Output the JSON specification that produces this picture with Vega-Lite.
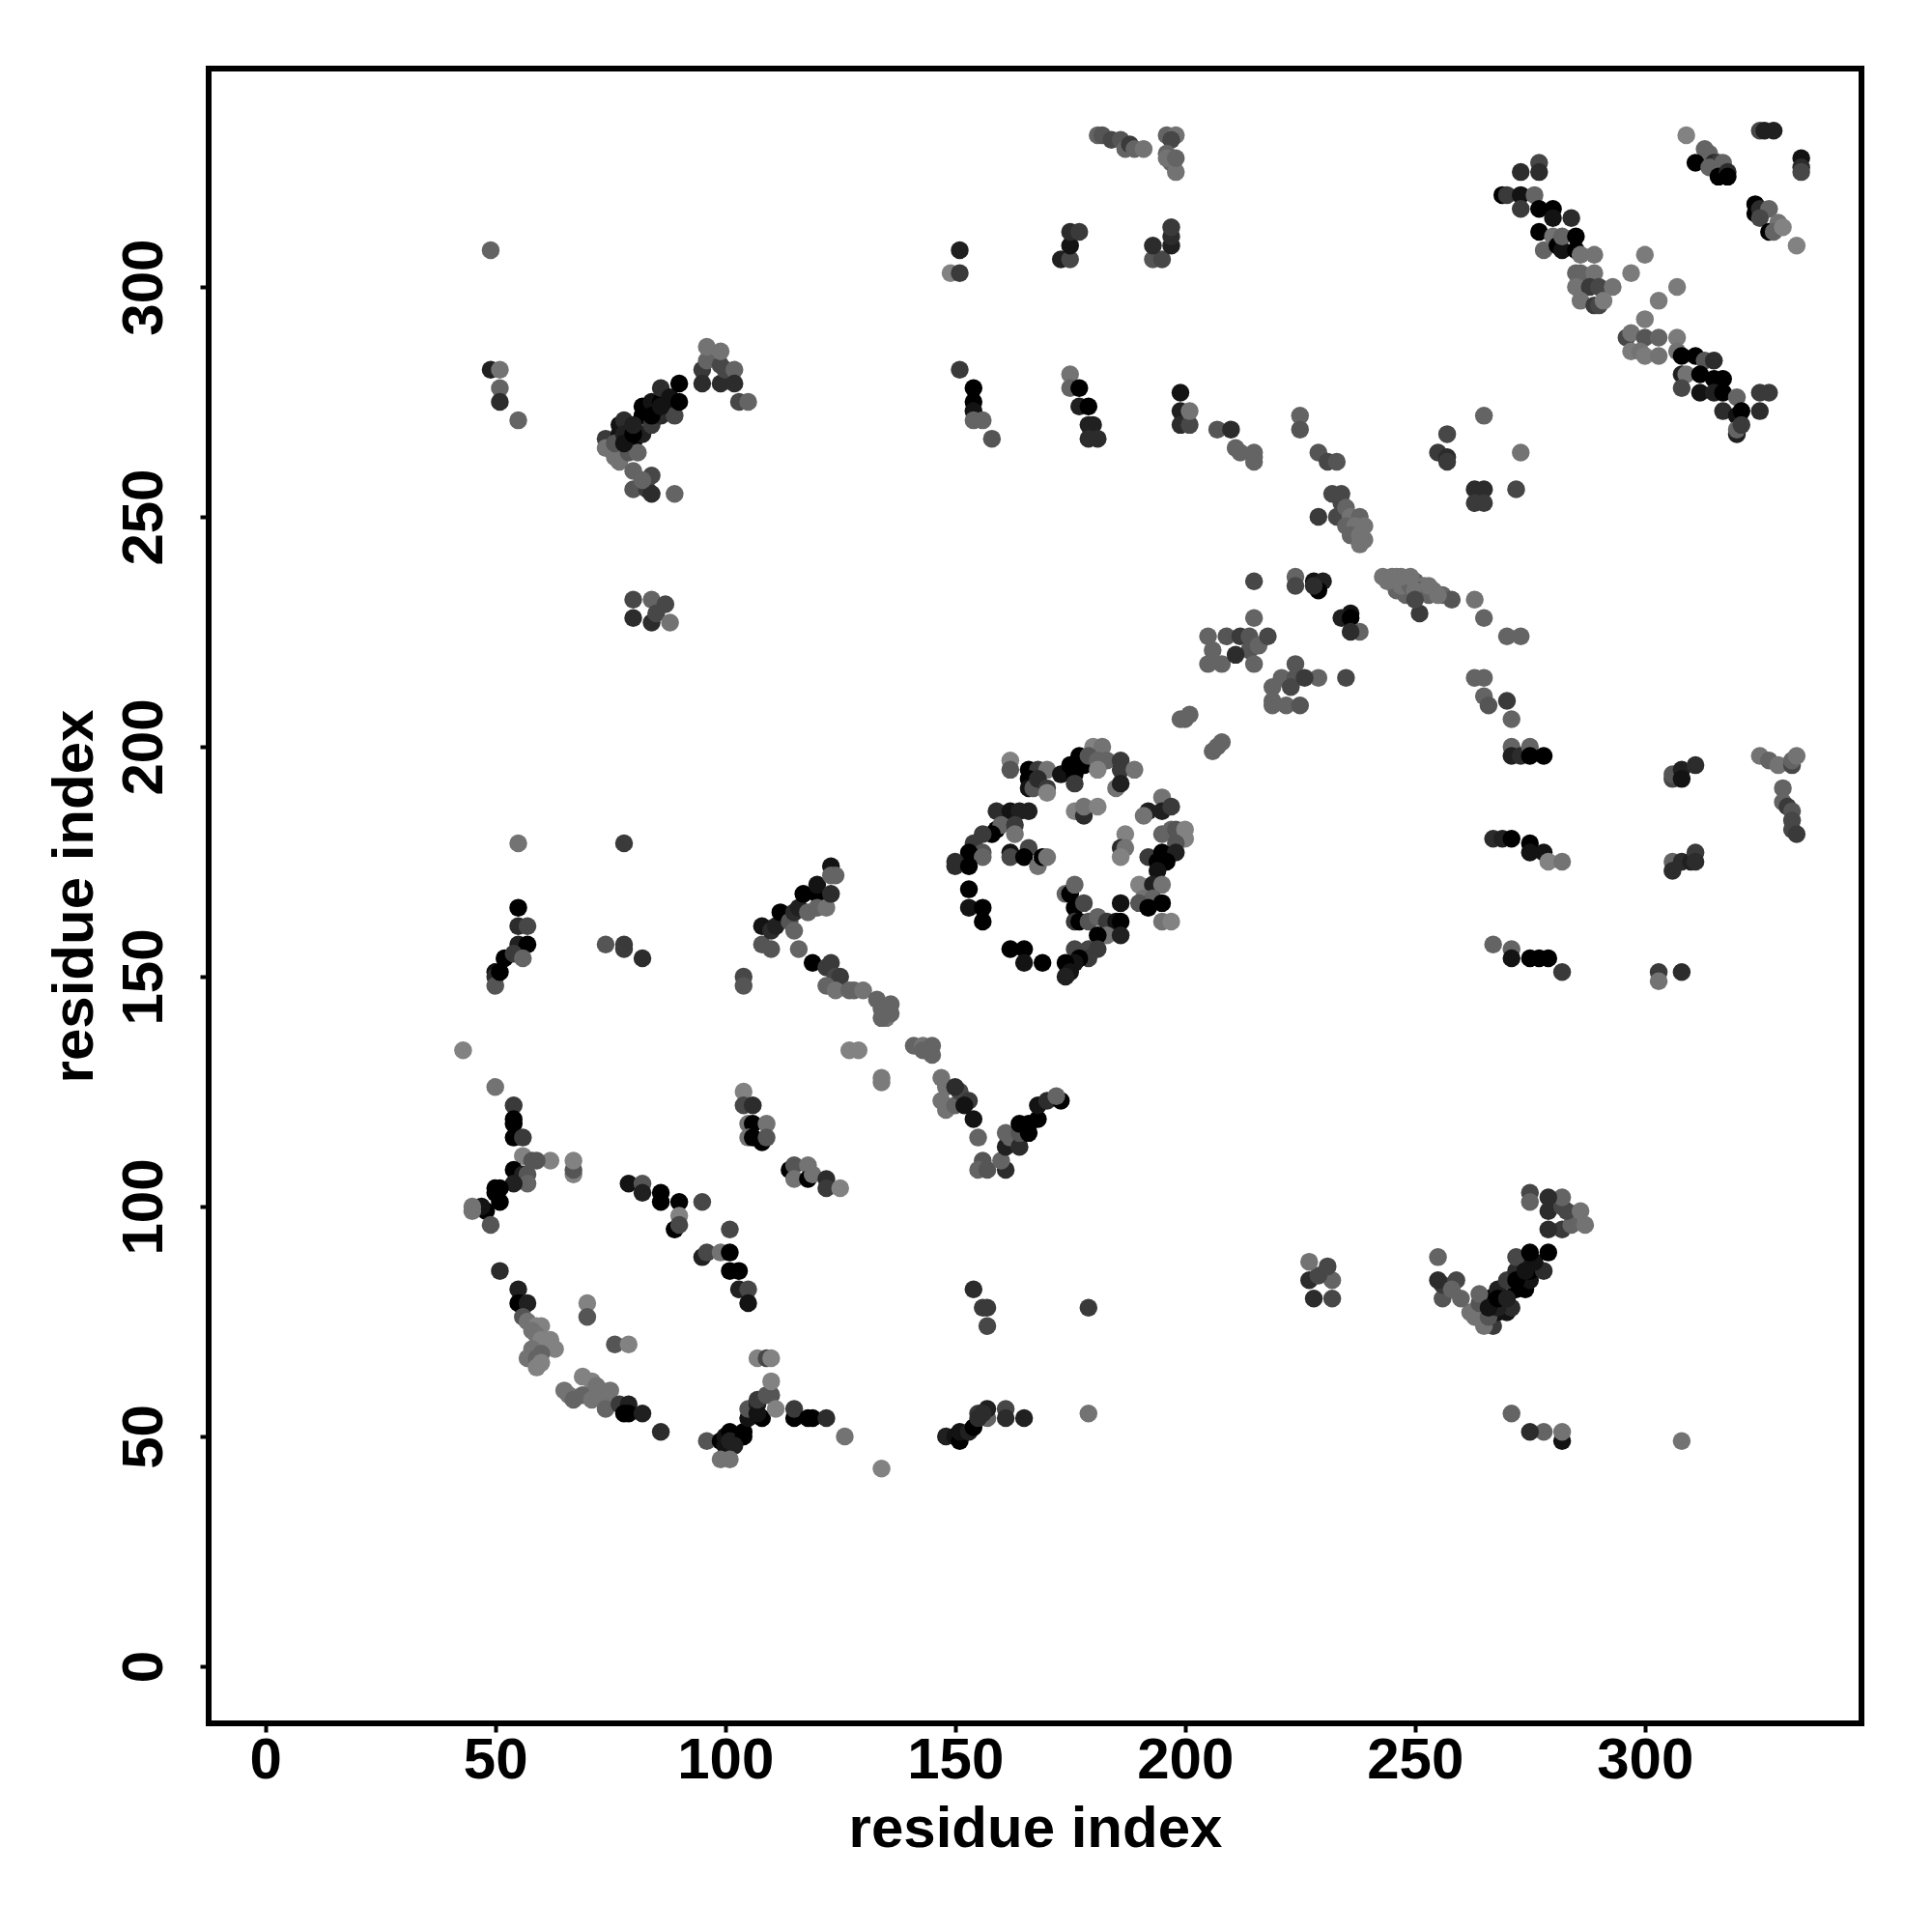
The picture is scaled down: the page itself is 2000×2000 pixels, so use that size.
{"$schema":"https://vega.github.io/schema/vega-lite/v6.json","width":1711,"height":1713,"autosize":{"type":"none"},"padding":{"left":216,"top":71,"right":70,"bottom":210},"background":"white","config":{"view":{"stroke":"#000000","strokeWidth":6},"font":"Liberation Sans"},"data":{"values":[
{"x":43,"y":134,"v":0.9},{"x":50,"y":126,"v":0.8},{"x":54,"y":122,"v":0.4},{"x":54,"y":119,"v":0},{"x":54,"y":118,"v":0},{"x":54,"y":115,"v":0},{"x":56,"y":115,"v":0.4},{"x":56,"y":111,"v":0.9},{"x":62,"y":110,"v":0.9},{"x":59,"y":110,"v":0.6},{"x":58,"y":110,"v":0.6},{"x":67,"y":107,"v":0.9},{"x":67,"y":108,"v":0.6},{"x":67,"y":110,"v":0.9},{"x":54,"y":108,"v":0},{"x":56,"y":107,"v":0.2},{"x":57,"y":107,"v":0.6},{"x":57,"y":105,"v":0.7},{"x":54,"y":105,"v":0.2},{"x":50,"y":104,"v":0},{"x":51,"y":104,"v":0},{"x":50,"y":103,"v":0},{"x":51,"y":101,"v":0},{"x":48,"y":99,"v":0},{"x":47,"y":100,"v":0.1},{"x":45,"y":100,"v":0.8},{"x":45,"y":99,"v":0.8},{"x":49,"y":96,"v":0.6},{"x":51,"y":86,"v":0.3},{"x":55,"y":82,"v":0.2},{"x":55,"y":79,"v":0},{"x":57,"y":79,"v":0.2},{"x":56,"y":76,"v":0.6},{"x":57,"y":75,"v":0.8},{"x":59,"y":74,"v":0.9},{"x":60,"y":74,"v":0.9},{"x":58,"y":73,"v":0.8},{"x":59,"y":72,"v":0.8},{"x":60,"y":71,"v":0.9},{"x":62,"y":71,"v":0.9},{"x":63,"y":69,"v":0.9},{"x":58,"y":69,"v":0.8},{"x":60,"y":68,"v":0.7},{"x":57,"y":67,"v":0.8},{"x":59,"y":67,"v":0.7},{"x":60,"y":66,"v":0.9},{"x":59,"y":65,"v":0.9},{"x":70,"y":79,"v":0.9},{"x":70,"y":76,"v":0.6},{"x":76,"y":70,"v":0.6},{"x":79,"y":70,"v":0.9},{"x":69,"y":63,"v":0.9},{"x":71,"y":62,"v":0.9},{"x":65,"y":60,"v":0.8},{"x":66,"y":59,"v":0.8},{"x":67,"y":58,"v":0.7},{"x":69,"y":59,"v":0.7},{"x":71,"y":58,"v":0.8},{"x":72,"y":61,"v":0.8},{"x":73,"y":60,"v":0.8},{"x":74,"y":58,"v":0.8},{"x":75,"y":60,"v":0.8},{"x":74,"y":56,"v":0.7},{"x":77,"y":57,"v":0.4},{"x":79,"y":57,"v":0.2},{"x":79,"y":55,"v":0},{"x":78,"y":55,"v":0},{"x":82,"y":55,"v":0.2},{"x":86,"y":51,"v":0.3},{"x":96,"y":49,"v":0.6},{"x":99,"y":49,"v":0},{"x":100,"y":48,"v":0.1},{"x":100,"y":50,"v":0.1},{"x":101,"y":51,"v":0},{"x":101,"y":49,"v":0.2},{"x":104,"y":51,"v":0},{"x":104,"y":50,"v":0},{"x":102,"y":48,"v":0.2},{"x":99,"y":45,"v":0.8},{"x":101,"y":45,"v":0.8},{"x":105,"y":54,"v":0.1},{"x":105,"y":56,"v":0.6},{"x":107,"y":57,"v":0.2},{"x":108,"y":54,"v":0},{"x":107,"y":55,"v":0.1},{"x":107,"y":58,"v":0.4},{"x":109,"y":59,"v":0.6},{"x":110,"y":59,"v":0.6},{"x":110,"y":62,"v":0.9},{"x":111,"y":56,"v":0.9},{"x":115,"y":54,"v":0},{"x":115,"y":56,"v":0.4},{"x":118,"y":54,"v":0},{"x":119,"y":54,"v":0},{"x":122,"y":54,"v":0.3},{"x":126,"y":50,"v":0.8},{"x":134,"y":43,"v":0.9},{"x":107,"y":67,"v":0.9},{"x":109,"y":67,"v":0.5},{"x":110,"y":67,"v":0.9},{"x":79,"y":105,"v":0.1},{"x":82,"y":105,"v":0.6},{"x":82,"y":103,"v":0.2},{"x":86,"y":103,"v":0},{"x":86,"y":101,"v":0},{"x":90,"y":101,"v":0},{"x":95,"y":101,"v":0.5},{"x":90,"y":98,"v":0.9},{"x":89,"y":95,"v":0},{"x":90,"y":96,"v":0.5},{"x":101,"y":95,"v":0.5},{"x":95,"y":89,"v":0.2},{"x":96,"y":90,"v":0.5},{"x":99,"y":90,"v":0.8},{"x":101,"y":90,"v":0},{"x":101,"y":86,"v":0},{"x":103,"y":86,"v":0},{"x":103,"y":82,"v":0.2},{"x":105,"y":82,"v":0.5},{"x":105,"y":79,"v":0.1},{"x":104,"y":125,"v":0.9},{"x":104,"y":122,"v":0.5},{"x":106,"y":122,"v":0.3},{"x":105,"y":118,"v":0.8},{"x":106,"y":118,"v":0},{"x":109,"y":118,"v":0.8},{"x":105,"y":115,"v":0.8},{"x":108,"y":114,"v":0},{"x":106,"y":115,"v":0},{"x":109,"y":115,"v":0.6},{"x":114,"y":108,"v":0},{"x":115,"y":109,"v":0.6},{"x":115,"y":106,"v":0.8},{"x":118,"y":109,"v":0.8},{"x":118,"y":106,"v":0},{"x":119,"y":107,"v":0.8},{"x":122,"y":106,"v":0.3},{"x":122,"y":104,"v":0.4},{"x":125,"y":104,"v":0.9},{"x":127,"y":134,"v":0.9},{"x":129,"y":134,"v":0.9},{"x":134,"y":127,"v":0.85},{"x":134,"y":128,"v":0.85},
{"x":162,"y":197,"v":0.9},{"x":162,"y":195,"v":0.6},{"x":166,"y":195,"v":0},{"x":168,"y":195,"v":0.4},{"x":170,"y":195,"v":0.8},{"x":166,"y":193,"v":0},{"x":166,"y":191,"v":0.1},{"x":167,"y":191,"v":0.6},{"x":168,"y":193,"v":0.3},{"x":170,"y":191,"v":0.4},{"x":170,"y":190,"v":0.9},{"x":173,"y":194,"v":0.1},{"x":175,"y":196,"v":0},{"x":177,"y":198,"v":0},{"x":178,"y":196,"v":0},{"x":176,"y":194,"v":0},{"x":176,"y":192,"v":0.4},{"x":180,"y":200,"v":0.9},{"x":182,"y":200,"v":0.8},{"x":179,"y":198,"v":0.6},{"x":181,"y":197,"v":0.7},{"x":183,"y":197,"v":0.7},{"x":181,"y":195,"v":0.9},{"x":186,"y":197,"v":0.4},{"x":186,"y":195,"v":0.4},{"x":189,"y":195,"v":0.8},{"x":185,"y":191,"v":0.8},{"x":186,"y":192,"v":0.2},{"x":176,"y":186,"v":0.9},{"x":178,"y":185,"v":0.3},{"x":178,"y":187,"v":0.8},{"x":181,"y":187,"v":0.9},{"x":159,"y":186,"v":0.3},{"x":162,"y":186,"v":0.1},{"x":164,"y":186,"v":0.2},{"x":166,"y":186,"v":0.2},{"x":159,"y":182,"v":0},{"x":160,"y":183,"v":0.7},{"x":163,"y":183,"v":0.4},{"x":163,"y":181,"v":0.8},{"x":158,"y":181,"v":0},{"x":156,"y":181,"v":0.4},{"x":154,"y":179,"v":0.4},{"x":156,"y":177,"v":0.6},{"x":153,"y":177,"v":0},{"x":156,"y":176,"v":0.7},{"x":150,"y":175,"v":0.3},{"x":150,"y":174,"v":0.3},{"x":153,"y":174,"v":0},{"x":162,"y":177,"v":0.1},{"x":162,"y":176,"v":0.5},{"x":166,"y":178,"v":0.5},{"x":165,"y":176,"v":0},{"x":168,"y":174,"v":0.8},{"x":169,"y":176,"v":0},{"x":170,"y":176,"v":0.8},{"x":153,"y":169,"v":0},{"x":153,"y":165,"v":0.1},{"x":156,"y":165,"v":0},{"x":156,"y":162,"v":0},{"x":162,"y":156,"v":0},{"x":165,"y":156,"v":0},{"x":165,"y":153,"v":0.1},{"x":169,"y":153,"v":0},{"x":174,"y":168,"v":0.7},{"x":175,"y":168,"v":0},{"x":176,"y":170,"v":0.7},{"x":176,"y":165,"v":0},{"x":178,"y":166,"v":0.5},{"x":176,"y":162,"v":0.4},{"x":177,"y":162,"v":0},{"x":179,"y":162,"v":0.6},{"x":181,"y":163,"v":0.7},{"x":183,"y":162,"v":0.4},{"x":186,"y":166,"v":0.1},{"x":185,"y":162,"v":0.1},{"x":186,"y":162,"v":0},{"x":183,"y":159,"v":0.8},{"x":181,"y":159,"v":0},{"x":186,"y":159,"v":0.2},{"x":176,"y":156,"v":0.5},{"x":179,"y":156,"v":0.5},{"x":181,"y":156,"v":0.4},{"x":179,"y":154,"v":0.4},{"x":177,"y":154,"v":0},{"x":176,"y":153,"v":0.1},{"x":174,"y":153,"v":0},{"x":175,"y":151,"v":0.1},{"x":174,"y":150,"v":0.2},
{"x":192,"y":186,"v":0.2},{"x":191,"y":185,"v":0.8},{"x":195,"y":189,"v":0.8},{"x":195,"y":186,"v":0.2},{"x":197,"y":187,"v":0.4},{"x":195,"y":181,"v":0.7},{"x":197,"y":182,"v":0.7},{"x":198,"y":182,"v":0.6},{"x":200,"y":182,"v":0.9},{"x":200,"y":180,"v":0.9},{"x":198,"y":179,"v":0.6},{"x":187,"y":181,"v":0.9},{"x":186,"y":178,"v":0.3},{"x":187,"y":178,"v":0.8},{"x":186,"y":176,"v":0.9},{"x":192,"y":176,"v":0.4},{"x":195,"y":177,"v":0},{"x":198,"y":177,"v":0.2},{"x":196,"y":175,"v":0},{"x":194,"y":175,"v":0},{"x":194,"y":173,"v":0.1},{"x":190,"y":170,"v":0.9},{"x":193,"y":170,"v":0.2},{"x":195,"y":170,"v":0.8},{"x":191,"y":167,"v":0.8},{"x":193,"y":167,"v":0.7},{"x":190,"y":166,"v":0.6},{"x":192,"y":165,"v":0},{"x":195,"y":166,"v":0},{"x":195,"y":162,"v":0.8},{"x":197,"y":162,"v":0.9},{"x":199,"y":206,"v":0.7},{"x":201,"y":207,"v":0.7},{"x":200,"y":206,"v":0.7},{"x":206,"y":199,"v":0.7},{"x":207,"y":200,"v":0.7},{"x":208,"y":201,"v":0.7},
{"x":309,"y":333,"v":0.9},{"x":313,"y":330,"v":0.7},{"x":314,"y":329,"v":0.7},{"x":311,"y":327,"v":0},{"x":315,"y":327,"v":0.3},{"x":316,"y":327,"v":0.4},{"x":317,"y":327,"v":0.7},{"x":314,"y":326,"v":0.7},{"x":316,"y":324,"v":0},{"x":318,"y":325,"v":0.3},{"x":318,"y":324,"v":0},{"x":325,"y":334,"v":0.5},{"x":326,"y":334,"v":0.2},{"x":328,"y":334,"v":0.2},{"x":334,"y":328,"v":0.1},{"x":334,"y":326,"v":0.3},{"x":334,"y":325,"v":0.5},{"x":324,"y":318,"v":0},{"x":324,"y":316,"v":0},{"x":325,"y":317,"v":0.3},{"x":327,"y":317,"v":0.7},{"x":325,"y":315,"v":0.5},{"x":327,"y":312,"v":0},{"x":329,"y":314,"v":0.8},{"x":328,"y":312,"v":0.7},{"x":330,"y":313,"v":0.9},{"x":333,"y":309,"v":0.9},{"x":277,"y":327,"v":0.5},{"x":277,"y":325,"v":0.3},{"x":273,"y":325,"v":0.3},{"x":269,"y":320,"v":0},{"x":270,"y":320,"v":0.4},{"x":273,"y":320,"v":0.1},{"x":273,"y":317,"v":0.4},{"x":276,"y":320,"v":0.7},{"x":277,"y":317,"v":0},{"x":280,"y":317,"v":0},{"x":280,"y":315,"v":0.1},{"x":284,"y":315,"v":0.3},{"x":277,"y":312,"v":0},{"x":278,"y":308,"v":0.7},{"x":280,"y":311,"v":0.8},{"x":281,"y":309,"v":0},{"x":282,"y":308,"v":0.1},{"x":282,"y":311,"v":0.7},{"x":285,"y":311,"v":0},{"x":285,"y":308,"v":0},{"x":286,"y":307,"v":0.8},{"x":289,"y":307,"v":0.8},{"x":285,"y":303,"v":0.7},{"x":286,"y":303,"v":0.7},{"x":289,"y":303,"v":0.8},{"x":285,"y":300,"v":0.8},{"x":288,"y":300,"v":0.4},{"x":290,"y":300,"v":0.5},{"x":293,"y":300,"v":0.8},{"x":286,"y":297,"v":0.8},{"x":289,"y":296,"v":0.4},{"x":290,"y":296,"v":0.5},{"x":291,"y":297,"v":0.85},{"x":300,"y":307,"v":0.85},{"x":297,"y":303,"v":0.85},{"x":307,"y":300,"v":0.85},{"x":303,"y":297,"v":0.85},{"x":300,"y":293,"v":0.85},{"x":296,"y":289,"v":0.5},{"x":297,"y":290,"v":0.8},{"x":300,"y":289,"v":0.6},{"x":303,"y":289,"v":0.7},{"x":307,"y":289,"v":0.85},{"x":297,"y":286,"v":0.85},{"x":299,"y":286,"v":0.8},{"x":300,"y":285,"v":0.85},{"x":303,"y":285,"v":0.8},{"x":307,"y":286,"v":0.8},{"x":308,"y":285,"v":0},{"x":311,"y":285,"v":0},{"x":313,"y":284,"v":0.6},{"x":315,"y":284,"v":0.3},{"x":308,"y":281,"v":0.2},{"x":309,"y":281,"v":0.8},{"x":312,"y":281,"v":0},{"x":315,"y":280,"v":0},{"x":317,"y":280,"v":0},{"x":308,"y":278,"v":0.5},{"x":312,"y":277,"v":0.1},{"x":315,"y":277,"v":0.2},{"x":317,"y":277,"v":0},{"x":320,"y":276,"v":0.7},{"x":325,"y":277,"v":0.4},{"x":327,"y":277,"v":0.4},{"x":325,"y":273,"v":0.3},{"x":317,"y":273,"v":0.3},{"x":320,"y":272,"v":0.1},{"x":321,"y":273,"v":0},{"x":320,"y":268,"v":0.2},{"x":320,"y":269,"v":0.7},{"x":321,"y":270,"v":0.4},
{"x":49,"y":308,"v":0.7},{"x":49,"y":282,"v":0.2},{"x":51,"y":282,"v":0.8},{"x":51,"y":278,"v":0.7},{"x":51,"y":275,"v":0.3},{"x":55,"y":271,"v":0.7},{"x":74,"y":267,"v":0.4},{"x":74,"y":265,"v":0.8},{"x":76,"y":263,"v":0.8},{"x":77,"y":262,"v":0.8},{"x":77,"y":268,"v":0.1},{"x":77,"y":270,"v":0.1},{"x":78,"y":271,"v":0.3},{"x":80,"y":266,"v":0},{"x":79,"y":264,"v":0.6},{"x":81,"y":264,"v":0.7},{"x":80,"y":260,"v":0.7},{"x":80,"y":256,"v":0.6},{"x":83,"y":256,"v":0.4},{"x":84,"y":259,"v":0.5},{"x":84,"y":255,"v":0.3},{"x":82,"y":258,"v":0.7},{"x":82,"y":268,"v":0.2},{"x":82,"y":272,"v":0},{"x":82,"y":274,"v":0},{"x":84,"y":275,"v":0.1},{"x":84,"y":270,"v":0.4},{"x":86,"y":272,"v":0.3},{"x":86,"y":275,"v":0},{"x":86,"y":278,"v":0.3},{"x":88,"y":274,"v":0.1},{"x":88,"y":276,"v":0.1},{"x":89,"y":272,"v":0.5},{"x":90,"y":275,"v":0},{"x":90,"y":279,"v":0},{"x":89,"y":255,"v":0.7},{"x":76,"y":266,"v":0.6},{"x":78,"y":268,"v":0.2},{"x":78,"y":266,"v":0.1},{"x":80,"y":268,"v":0},{"x":80,"y":270,"v":0.2},{"x":84,"y":272,"v":0},{"x":86,"y":274,"v":0.1},{"x":80,"y":232,"v":0.5},{"x":80,"y":228,"v":0.3},{"x":84,"y":232,"v":0.7},{"x":84,"y":227,"v":0.3},{"x":85,"y":229,"v":0.5},{"x":87,"y":231,"v":0.5},{"x":88,"y":227,"v":0.8},{"x":95,"y":282,"v":0.4},{"x":95,"y":279,"v":0.3},{"x":96,"y":284,"v":0.7},{"x":96,"y":287,"v":0.8},{"x":99,"y":279,"v":0.3},{"x":100,"y":282,"v":0.5},{"x":99,"y":283,"v":0.5},{"x":99,"y":286,"v":0.8},{"x":102,"y":282,"v":0.7},{"x":102,"y":279,"v":0.3},{"x":103,"y":275,"v":0.5},{"x":105,"y":275,"v":0.7},{"x":149,"y":303,"v":0.9},{"x":151,"y":303,"v":0.4},{"x":151,"y":308,"v":0.2},{"x":151,"y":282,"v":0.4},{"x":154,"y":278,"v":0},{"x":154,"y":275,"v":0},{"x":154,"y":273,"v":0.1},{"x":154,"y":271,"v":0.7},{"x":156,"y":271,"v":0.7},{"x":158,"y":267,"v":0.6},{"x":173,"y":306,"v":0.2},{"x":175,"y":306,"v":0.5},{"x":175,"y":309,"v":0.1},{"x":175,"y":312,"v":0.3},{"x":177,"y":312,"v":0.4},{"x":193,"y":306,"v":0.6},{"x":195,"y":306,"v":0.5},{"x":193,"y":309,"v":0.3},{"x":197,"y":309,"v":0.2},{"x":197,"y":311,"v":0.3},{"x":197,"y":313,"v":0.4},{"x":175,"y":281,"v":0.8},{"x":175,"y":278,"v":0.7},{"x":177,"y":278,"v":0},{"x":177,"y":274,"v":0.2},{"x":179,"y":274,"v":0},{"x":179,"y":270,"v":0.2},{"x":180,"y":270,"v":0.2},{"x":179,"y":267,"v":0.3},{"x":181,"y":267,"v":0.3},{"x":199,"y":277,"v":0.1},{"x":199,"y":273,"v":0.2},{"x":199,"y":270,"v":0.3},{"x":201,"y":270,"v":0.5},{"x":201,"y":273,"v":0.8},{"x":207,"y":269,"v":0.6},{"x":210,"y":269,"v":0.3},{"x":211,"y":265,"v":0.7},{"x":212,"y":264,"v":0.7},{"x":215,"y":264,"v":0.7},{"x":215,"y":263,"v":0.7},{"x":215,"y":262,"v":0.7},{"x":225,"y":272,"v":0.7},{"x":225,"y":269,"v":0.6},{"x":229,"y":264,"v":0.6},{"x":231,"y":262,"v":0.5},{"x":233,"y":262,"v":0.6},{"x":232,"y":255,"v":0.5},{"x":234,"y":255,"v":0.5},{"x":234,"y":253,"v":0.5},{"x":229,"y":250,"v":0.4},{"x":233,"y":250,"v":0.5},{"x":235,"y":252,"v":0.7},{"x":236,"y":250,"v":0.8},{"x":238,"y":250,"v":0.7},{"x":235,"y":248,"v":0.7},{"x":237,"y":248,"v":0.8},{"x":239,"y":248,"v":0.8},{"x":236,"y":246,"v":0.7},{"x":238,"y":246,"v":0.8},{"x":239,"y":245,"v":0.8},{"x":238,"y":244,"v":0.8},{"x":224,"y":237,"v":0.7},{"x":224,"y":235,"v":0.5},{"x":228,"y":236,"v":0.1},{"x":230,"y":236,"v":0.2},{"x":229,"y":234,"v":0},{"x":228,"y":235,"v":0.3},{"x":236,"y":229,"v":0.1},{"x":234,"y":228,"v":0.2},{"x":236,"y":228,"v":0},{"x":238,"y":225,"v":0.7},{"x":236,"y":225,"v":0.3},{"x":235,"y":215,"v":0.5},{"x":243,"y":237,"v":0.8},{"x":245,"y":237,"v":0.8},{"x":245,"y":236,"v":0.7},{"x":246,"y":237,"v":0.8},{"x":248,"y":236,"v":0.8},{"x":248,"y":233,"v":0.7},{"x":246,"y":234,"v":0.7},{"x":250,"y":236,"v":0.7},{"x":252,"y":235,"v":0.8},{"x":251,"y":234,"v":0.6},{"x":254,"y":234,"v":0.8},{"x":256,"y":233,"v":0.7},{"x":258,"y":232,"v":0.6},{"x":251,"y":229,"v":0.4},{"x":244,"y":236,"v":0.8},{"x":247,"y":235,"v":0.8},{"x":249,"y":235,"v":0.7},{"x":250,"y":234,"v":0.8},{"x":253,"y":233,"v":0.7},{"x":247,"y":237,"v":0.8},{"x":249,"y":237,"v":0.8},{"x":253,"y":235,"v":0.8},{"x":255,"y":233,"v":0.8},{"x":250,"y":232,"v":0.5},{"x":263,"y":232,"v":0.8},{"x":265,"y":228,"v":0.7},{"x":263,"y":215,"v":0.7},{"x":265,"y":215,"v":0.7},{"x":265,"y":211,"v":0.7},{"x":266,"y":209,"v":0.6},{"x":270,"y":224,"v":0.7},{"x":273,"y":224,"v":0.7},{"x":270,"y":210,"v":0.4},{"x":271,"y":206,"v":0.7},{"x":215,"y":236,"v":0.5},{"x":215,"y":228,"v":0.7},{"x":209,"y":224,"v":0.6},{"x":205,"y":224,"v":0.7},{"x":206,"y":221,"v":0.7},{"x":205,"y":218,"v":0.7},{"x":208,"y":218,"v":0.7},{"x":212,"y":224,"v":0.4},{"x":214,"y":224,"v":0.6},{"x":214,"y":221,"v":0.6},{"x":216,"y":222,"v":0.7},{"x":218,"y":224,"v":0.5},{"x":211,"y":220,"v":0.3},{"x":215,"y":218,"v":0.7},{"x":221,"y":215,"v":0.7},{"x":224,"y":215,"v":0.6},{"x":224,"y":218,"v":0.6},{"x":223,"y":213,"v":0.5},{"x":219,"y":213,"v":0.7},{"x":219,"y":210,"v":0.7},{"x":219,"y":209,"v":0.7},{"x":222,"y":209,"v":0.7},{"x":225,"y":209,"v":0.6},{"x":229,"y":215,"v":0.7},{"x":226,"y":215,"v":0.4},
{"x":255,"y":264,"v":0.4},{"x":257,"y":263,"v":0.3},{"x":257,"y":268,"v":0.5},{"x":257,"y":262,"v":0.4},{"x":263,"y":256,"v":0.3},{"x":265,"y":256,"v":0.3},{"x":263,"y":253,"v":0.4},{"x":265,"y":253,"v":0.4},{"x":272,"y":256,"v":0.5},{"x":265,"y":272,"v":0.7},{"x":273,"y":264,"v":0.8},{"x":271,"y":200,"v":0.7},{"x":271,"y":198,"v":0.2},{"x":273,"y":198,"v":0.3},{"x":275,"y":200,"v":0.7},{"x":275,"y":198,"v":0},{"x":278,"y":198,"v":0},{"x":306,"y":193,"v":0.5},{"x":306,"y":194,"v":0.6},{"x":308,"y":195,"v":0.2},{"x":308,"y":193,"v":0.1},{"x":311,"y":196,"v":0.3},{"x":325,"y":198,"v":0.8},{"x":327,"y":197,"v":0.7},{"x":329,"y":196,"v":0.8},{"x":332,"y":196,"v":0.5},{"x":332,"y":197,"v":0.7},{"x":333,"y":198,"v":0.8},{"x":330,"y":191,"v":0.7},{"x":330,"y":188,"v":0.7},{"x":331,"y":187,"v":0.4},{"x":332,"y":186,"v":0.6},{"x":332,"y":184,"v":0.5},{"x":332,"y":182,"v":0.5},{"x":333,"y":181,"v":0.4},{"x":267,"y":180,"v":0.3},{"x":269,"y":180,"v":0.2},{"x":271,"y":180,"v":0},{"x":275,"y":179,"v":0},{"x":275,"y":177,"v":0.1},{"x":278,"y":177,"v":0.1},{"x":279,"y":175,"v":0.9},{"x":282,"y":175,"v":0.8},{"x":306,"y":175,"v":0.7},{"x":306,"y":173,"v":0.3},{"x":308,"y":175,"v":0.3},{"x":310,"y":175,"v":0.2},{"x":311,"y":177,"v":0.4},{"x":311,"y":175,"v":0.3},{"x":267,"y":157,"v":0.7},{"x":271,"y":156,"v":0.7},{"x":271,"y":154,"v":0.1},{"x":275,"y":154,"v":0},{"x":277,"y":154,"v":0},{"x":279,"y":154,"v":0},{"x":282,"y":151,"v":0.4},{"x":303,"y":151,"v":0.4},{"x":303,"y":149,"v":0.8},{"x":308,"y":151,"v":0.3},{"x":154,"y":82,"v":0.3},{"x":157,"y":78,"v":0.4},{"x":156,"y":78,"v":0.4},{"x":157,"y":74,"v":0.5},{"x":179,"y":78,"v":0.4},{"x":179,"y":55,"v":0.8},{"x":50,"y":151,"v":0.1},{"x":50,"y":150,"v":0.3},{"x":50,"y":148,"v":0.6},{"x":51,"y":151,"v":0},{"x":52,"y":154,"v":0},{"x":55,"y":165,"v":0},{"x":55,"y":161,"v":0.3},{"x":57,"y":161,"v":0.5},{"x":55,"y":157,"v":0.2},{"x":57,"y":157,"v":0},{"x":54,"y":155,"v":0.4},{"x":56,"y":154,"v":0.7},{"x":104,"y":150,"v":0.5},{"x":104,"y":148,"v":0.6},{"x":108,"y":161,"v":0.1},{"x":108,"y":157,"v":0.6},{"x":110,"y":156,"v":0.6},{"x":110,"y":160,"v":0.3},{"x":111,"y":161,"v":0.2},{"x":112,"y":164,"v":0},{"x":114,"y":162,"v":0.6},{"x":115,"y":160,"v":0.7},{"x":115,"y":164,"v":0.3},{"x":116,"y":156,"v":0.7},{"x":116,"y":165,"v":0.2},{"x":117,"y":168,"v":0},{"x":118,"y":164,"v":0.7},{"x":120,"y":168,"v":0},{"x":120,"y":170,"v":0.1},{"x":120,"y":165,"v":0.7},{"x":122,"y":165,"v":0.8},{"x":123,"y":168,"v":0.3},{"x":123,"y":174,"v":0.1},{"x":123,"y":172,"v":0.7},{"x":124,"y":172,"v":0.7},{"x":119,"y":153,"v":0},{"x":122,"y":152,"v":0.4},{"x":123,"y":153,"v":0.4},{"x":124,"y":150,"v":0.5},{"x":125,"y":150,"v":0.4},{"x":122,"y":148,"v":0.7},{"x":124,"y":147,"v":0.8},{"x":127,"y":147,"v":0.7},{"x":128,"y":147,"v":0.7},{"x":130,"y":147,"v":0.8},{"x":133,"y":145,"v":0.7},{"x":134,"y":143,"v":0.7},{"x":135,"y":141,"v":0.8},{"x":136,"y":142,"v":0.7},{"x":136,"y":144,"v":0.7},{"x":134,"y":141,"v":0.7},{"x":141,"y":135,"v":0.7},{"x":143,"y":135,"v":0.8},{"x":145,"y":135,"v":0.7},{"x":145,"y":133,"v":0.7},{"x":143,"y":134,"v":0.7},{"x":147,"y":128,"v":0.8},{"x":148,"y":126,"v":0.8},{"x":147,"y":123,"v":0.8},{"x":148,"y":121,"v":0.8},{"x":150,"y":122,"v":0.7},{"x":151,"y":125,"v":0.5},{"x":150,"y":126,"v":0.3},{"x":153,"y":123,"v":0.4},{"x":152,"y":122,"v":0.1},{"x":154,"y":119,"v":0.1},{"x":155,"y":115,"v":0.7},{"x":156,"y":110,"v":0.6},{"x":155,"y":108,"v":0.7},{"x":157,"y":108,"v":0.6},{"x":161,"y":108,"v":0.3},{"x":160,"y":110,"v":0.7},{"x":161,"y":113,"v":0.2},{"x":162,"y":115,"v":0.7},{"x":161,"y":116,"v":0.7},{"x":164,"y":113,"v":0.3},{"x":164,"y":116,"v":0.6},{"x":164,"y":118,"v":0},{"x":166,"y":118,"v":0},{"x":166,"y":116,"v":0},{"x":168,"y":119,"v":0},{"x":168,"y":122,"v":0.1},{"x":170,"y":123,"v":0.3},{"x":173,"y":123,"v":0},{"x":172,"y":124,"v":0.7},
{"x":74,"y":157,"v":0.6},{"x":78,"y":157,"v":0.4},{"x":78,"y":156,"v":0.4},{"x":82,"y":154,"v":0.3},{"x":78,"y":179,"v":0.4},{"x":55,"y":179,"v":0.8},{"x":308,"y":49,"v":0.8},{"x":282,"y":49,"v":0.1},{"x":282,"y":51,"v":0.8},{"x":278,"y":51,"v":0.7},{"x":275,"y":51,"v":0.3},{"x":271,"y":55,"v":0.7},{"x":267,"y":74,"v":0.4},{"x":265,"y":74,"v":0.8},{"x":263,"y":76,"v":0.8},{"x":262,"y":77,"v":0.8},{"x":268,"y":77,"v":0.1},{"x":270,"y":77,"v":0.1},{"x":271,"y":78,"v":0.3},{"x":266,"y":80,"v":0},{"x":264,"y":79,"v":0.6},{"x":264,"y":81,"v":0.7},{"x":260,"y":80,"v":0.7},{"x":256,"y":80,"v":0.6},{"x":256,"y":83,"v":0.4},{"x":259,"y":84,"v":0.5},{"x":255,"y":84,"v":0.3},{"x":258,"y":82,"v":0.7},{"x":268,"y":82,"v":0.2},{"x":272,"y":82,"v":0},{"x":274,"y":82,"v":0},{"x":275,"y":84,"v":0.1},{"x":270,"y":84,"v":0.4},{"x":272,"y":86,"v":0.3},{"x":275,"y":86,"v":0},{"x":278,"y":86,"v":0.3},{"x":274,"y":88,"v":0.1},{"x":276,"y":88,"v":0.1},{"x":272,"y":89,"v":0.5},{"x":275,"y":90,"v":0},{"x":279,"y":90,"v":0},{"x":255,"y":89,"v":0.7},{"x":266,"y":76,"v":0.6},{"x":268,"y":78,"v":0.2},{"x":266,"y":78,"v":0.1},{"x":268,"y":80,"v":0},{"x":270,"y":80,"v":0.2},{"x":272,"y":84,"v":0},{"x":274,"y":86,"v":0.1},{"x":232,"y":80,"v":0.5},{"x":228,"y":80,"v":0.3},{"x":232,"y":84,"v":0.7},{"x":227,"y":84,"v":0.3},{"x":229,"y":85,"v":0.5},{"x":231,"y":87,"v":0.5},{"x":227,"y":88,"v":0.8},{"x":282,"y":95,"v":0.4},{"x":279,"y":95,"v":0.3},{"x":284,"y":96,"v":0.7},{"x":287,"y":96,"v":0.8},{"x":279,"y":99,"v":0.3},{"x":282,"y":100,"v":0.5},{"x":283,"y":99,"v":0.5},{"x":286,"y":99,"v":0.8},{"x":282,"y":102,"v":0.7},{"x":279,"y":102,"v":0.3},{"x":275,"y":103,"v":0.5},{"x":275,"y":101,"v":0.7},{"x":148,"y":50,"v":0.2},{"x":150,"y":50,"v":0.1},{"x":151,"y":49,"v":0},{"x":151,"y":51,"v":0.1},{"x":153,"y":51,"v":0.2},{"x":154,"y":52,"v":0},{"x":155,"y":55,"v":0.4},{"x":157,"y":54,"v":0.7},{"x":157,"y":56,"v":0.2},{"x":155,"y":54,"v":0.3},{"x":156,"y":55,"v":0.3},{"x":161,"y":56,"v":0.5},{"x":161,"y":54,"v":0.3},{"x":165,"y":54,"v":0.2},{"x":181,"y":333,"v":0.7},{"x":182,"y":333,"v":0.6},{"x":184,"y":332,"v":0.5},{"x":186,"y":332,"v":0.6},{"x":187,"y":330,"v":0.7},{"x":188,"y":331,"v":0.4},{"x":189,"y":330,"v":0.7},{"x":191,"y":330,"v":0.8},{"x":196,"y":333,"v":0.7},{"x":198,"y":333,"v":0.8},{"x":197,"y":332,"v":0.5},{"x":196,"y":329,"v":0.7},{"x":197,"y":327,"v":0.7},{"x":198,"y":325,"v":0.8},{"x":196,"y":328,"v":0.8},{"x":198,"y":328,"v":0.7}
]},"mark":{"type":"point","filled":true,"shape":"circle","size":342,"opacity":1,"strokeWidth":0},"encoding":{"x":{"field":"x","type":"quantitative","scale":{"domain":[-12.33,347.1],"nice":false,"zero":false},"axis":{"values":[0,50,100,150,200,250,300],"title":"residue index","grid":false,"domain":false,"tickColor":"#000000","tickWidth":4,"tickSize":9,"labelFont":"Liberation Sans","labelFontSize":60,"labelFontWeight":"bold","labelColor":"#000000","labelPadding":0,"titleFont":"Liberation Sans","titleFontSize":60,"titleFontWeight":"bold","titleColor":"#000000","titlePadding":12}},"y":{"field":"y","type":"quantitative","scale":{"domain":[-12.4,347.5],"nice":false,"zero":false},"axis":{"values":[0,50,100,150,200,250,300],"title":"residue index","grid":false,"domain":false,"tickColor":"#000000","tickWidth":4,"tickSize":9,"labelFont":"Liberation Sans","labelFontSize":60,"labelFontWeight":"bold","labelColor":"#000000","labelAngle":-90,"labelAlign":"center","labelBaseline":"bottom","labelPadding":27,"titleFont":"Liberation Sans","titleFontSize":60,"titleFontWeight":"bold","titleColor":"#000000","titlePadding":11}},"color":{"field":"v","type":"quantitative","legend":null,"scale":{"domain":[0,1],"range":["#000000","#929292"]}}}}
